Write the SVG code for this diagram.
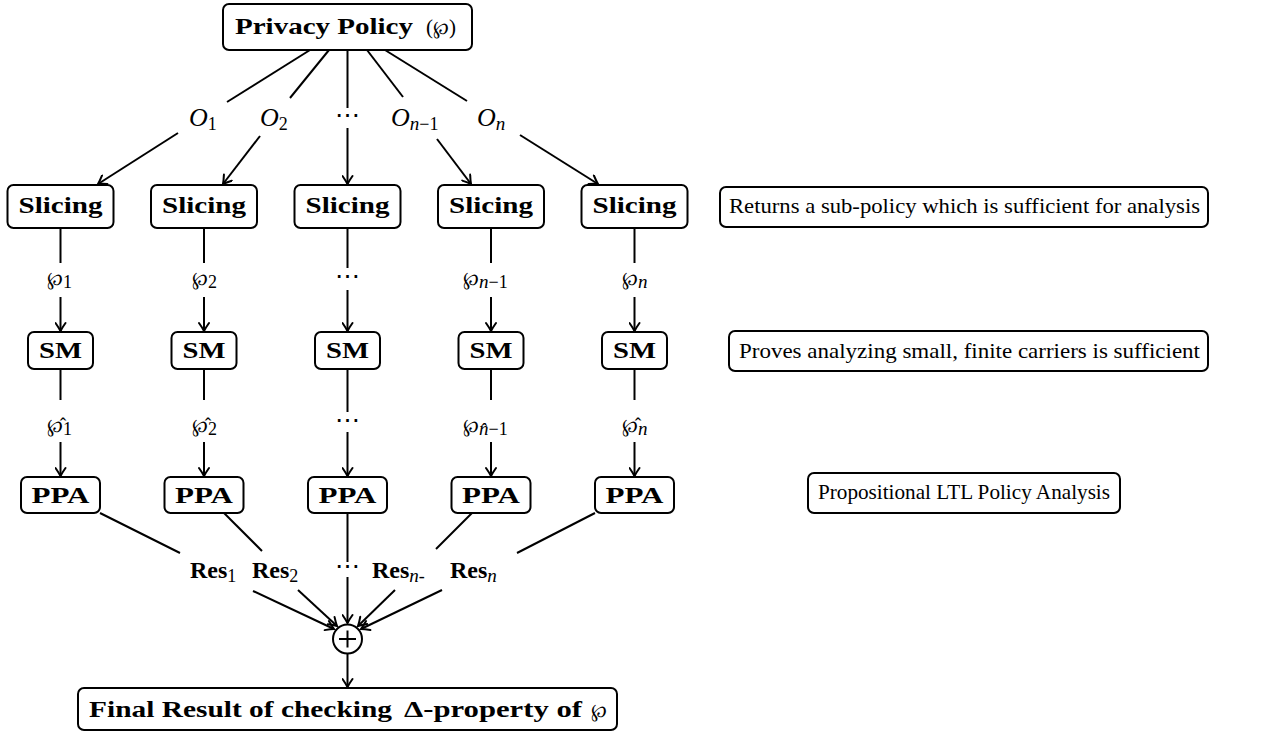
<svg xmlns="http://www.w3.org/2000/svg" width="1282" height="734" viewBox="0 0 1282 734">
  <style>
    .box { fill: #fff; stroke: #000; stroke-width: 2; }
    .edge { fill: none; stroke: #000; stroke-width: 2; }
    .b { font-family: "Liberation Serif", "DejaVu Serif", serif; font-weight: bold; font-size: 24px; fill: #000; }
    .r { font-family: "Liberation Serif", "DejaVu Serif", serif; font-size: 21px; fill: #000; }
    .mi { font-family: "Liberation Serif", "DejaVu Serif", serif; font-style: italic; font-size: 26px; fill: #000; }
    .p { font-family: "DejaVu Serif", "Liberation Serif", serif; font-size: 19px; fill: #000; }
    .sub { font-family: "Liberation Serif", "DejaVu Serif", serif; font-size: 18px; font-style: normal; font-weight: normal; }
    .subi { font-family: "Liberation Serif", "DejaVu Serif", serif; font-size: 19px; font-style: italic; font-weight: normal; }
    .dots { font-family: "DejaVu Sans", sans-serif; font-size: 24px; fill: #000; }
  </style>
  <defs>
    <marker id="arrow" viewBox="-10 -6 12 12" refX="0" refY="0" markerWidth="12" markerHeight="12" markerUnits="userSpaceOnUse" orient="auto">
      <path d="M-8,-5 Q-3,-1.5 0,0 Q-3,1.5 -8,5" fill="none" stroke="#000" stroke-width="2" stroke-linecap="round"/>
    </marker>
  </defs>
  <rect width="1282" height="734" fill="#fff"/>

  <!-- connectors -->
  <g id="connectors" class="edge">
    <!-- policy to slicing -->
    <line x1="310" y1="50" x2="227" y2="102"/>
    <line x1="178" y1="133" x2="98" y2="184" marker-end="url(#arrow)"/>
    <line x1="329" y1="50" x2="290" y2="98"/>
    <line x1="260" y1="136" x2="223" y2="184" marker-end="url(#arrow)"/>
    <line x1="347.5" y1="50" x2="347.5" y2="108"/>
    <line x1="347.5" y1="128" x2="347.5" y2="184" marker-end="url(#arrow)"/>
    <line x1="367" y1="50" x2="403" y2="97"/>
    <line x1="437" y1="139" x2="471" y2="184" marker-end="url(#arrow)"/>
    <line x1="385" y1="50" x2="467" y2="101"/>
    <line x1="520" y1="135" x2="598" y2="184" marker-end="url(#arrow)"/>

    <!-- slicing to SM -->
    <line x1="60.5" y1="228" x2="60.5" y2="263"/>
    <line x1="60.5" y1="297" x2="60.5" y2="331" marker-end="url(#arrow)"/>
    <line x1="204" y1="228" x2="204" y2="263"/>
    <line x1="204" y1="297" x2="204" y2="331" marker-end="url(#arrow)"/>
    <line x1="347.5" y1="228" x2="347.5" y2="268"/>
    <line x1="347.5" y1="290" x2="347.5" y2="331" marker-end="url(#arrow)"/>
    <line x1="491" y1="228" x2="491" y2="263"/>
    <line x1="491" y1="297" x2="491" y2="331" marker-end="url(#arrow)"/>
    <line x1="634.5" y1="228" x2="634.5" y2="263"/>
    <line x1="634.5" y1="297" x2="634.5" y2="331" marker-end="url(#arrow)"/>

    <!-- SM to PPA -->
    <line x1="60.5" y1="369" x2="60.5" y2="400"/>
    <line x1="60.5" y1="442" x2="60.5" y2="476" marker-end="url(#arrow)"/>
    <line x1="204" y1="369" x2="204" y2="400"/>
    <line x1="204" y1="442" x2="204" y2="476" marker-end="url(#arrow)"/>
    <line x1="347.5" y1="369" x2="347.5" y2="412"/>
    <line x1="347.5" y1="432" x2="347.5" y2="476" marker-end="url(#arrow)"/>
    <line x1="491" y1="369" x2="491" y2="400"/>
    <line x1="491" y1="442" x2="491" y2="476" marker-end="url(#arrow)"/>
    <line x1="634.5" y1="369" x2="634.5" y2="400"/>
    <line x1="634.5" y1="442" x2="634.5" y2="476" marker-end="url(#arrow)"/>

    <!-- PPA to combiner -->
    <line x1="100" y1="513" x2="180" y2="553"/>
    <line x1="253" y1="591" x2="334" y2="629" marker-end="url(#arrow)"/>
    <line x1="224" y1="513" x2="262" y2="551"/>
    <line x1="298" y1="590" x2="337" y2="626" marker-end="url(#arrow)"/>
    <line x1="347.5" y1="513" x2="347.5" y2="562"/>
    <line x1="347.5" y1="577" x2="347.5" y2="623" marker-end="url(#arrow)"/>
    <line x1="472" y1="513" x2="436" y2="549"/>
    <line x1="395" y1="590" x2="358" y2="626" marker-end="url(#arrow)"/>
    <line x1="595" y1="513" x2="517" y2="553"/>
    <line x1="442" y1="590" x2="361" y2="629" marker-end="url(#arrow)"/>

    <!-- combiner to result -->
    <line x1="347.5" y1="654" x2="347.5" y2="687" marker-end="url(#arrow)"/>
  </g>

  <!-- edge labels -->
  <g id="edge-labels">
    <text class="mi" x="189" y="126">O<tspan class="sub" dy="4">1</tspan></text>
    <text class="mi" x="260" y="126">O<tspan class="sub" dy="4">2</tspan></text>
    <text class="dots" x="335" y="123" textLength="25" lengthAdjust="spacingAndGlyphs">⋯</text>
    <text class="mi" x="391" y="126">O<tspan class="subi" dy="4">n</tspan><tspan class="sub">−1</tspan></text>
    <text class="mi" x="477" y="126">O<tspan class="subi" dy="4">n</tspan></text>

    <text class="p" x="47" y="285">℘<tspan class="sub" dy="3">1</tspan></text>
    <text class="p" x="192" y="285">℘<tspan class="sub" dy="3">2</tspan></text>
    <text class="dots" x="335" y="284" textLength="25" lengthAdjust="spacingAndGlyphs">⋯</text>
    <text class="p" x="463" y="285">℘<tspan class="subi" dy="3">n</tspan><tspan class="sub">−1</tspan></text>
    <text class="p" x="622" y="285">℘<tspan class="subi" dy="3">n</tspan></text>

    <!-- hatted sub-policies -->
    <text class="p" x="47" y="432">℘̂<tspan class="sub" dy="3">1</tspan></text>
    <text class="p" x="192" y="432">℘̂<tspan class="sub" dy="3">2</tspan></text>
    <text class="dots" x="335" y="428" textLength="25" lengthAdjust="spacingAndGlyphs">⋯</text>
    <text class="p" x="463" y="432">℘<tspan class="subi" dy="3">n̂</tspan><tspan class="sub">−1</tspan></text>
    <text class="p" x="622" y="432">℘̂<tspan class="subi" dy="3">n</tspan></text>

    <text class="b" x="190" y="578" font-size="23">Res<tspan class="sub" dy="4">1</tspan></text>
    <text class="b" x="252" y="578" font-size="23">Res<tspan class="sub" dy="4">2</tspan></text>
    <text class="dots" x="335" y="574" textLength="25" lengthAdjust="spacingAndGlyphs">⋯</text>
    <text class="b" x="372" y="578" font-size="23">Res<tspan class="subi" dy="4">n</tspan><tspan class="sub">-</tspan></text>
    <text class="b" x="450" y="578" font-size="23">Res<tspan class="subi" dy="4">n</tspan></text>
  </g>

  <!-- policy -->
  <g id="policy">
    <rect class="box" x="223" y="4" width="249" height="46" rx="6"/>
    <text class="b" x="235" y="34" textLength="178" lengthAdjust="spacingAndGlyphs">Privacy Policy</text>
    <text class="r" x="426" y="34" font-size="24">(<tspan class="p" font-size="20">℘</tspan>)</text>
  </g>

  <!-- slicing row -->
  <g id="slicing-1"><rect class="box" x="7.5" y="185" width="106" height="43" rx="6"/><text class="b" x="60.5" y="213" text-anchor="middle" textLength="84" lengthAdjust="spacingAndGlyphs">Slicing</text></g>
  <g id="slicing-2"><rect class="box" x="151" y="185" width="106" height="43" rx="6"/><text class="b" x="204" y="213" text-anchor="middle" textLength="84" lengthAdjust="spacingAndGlyphs">Slicing</text></g>
  <g id="slicing-3"><rect class="box" x="294.5" y="185" width="106" height="43" rx="6"/><text class="b" x="347.5" y="213" text-anchor="middle" textLength="84" lengthAdjust="spacingAndGlyphs">Slicing</text></g>
  <g id="slicing-4"><rect class="box" x="438" y="185" width="106" height="43" rx="6"/><text class="b" x="491" y="213" text-anchor="middle" textLength="84" lengthAdjust="spacingAndGlyphs">Slicing</text></g>
  <g id="slicing-5"><rect class="box" x="581.5" y="185" width="106" height="43" rx="6"/><text class="b" x="634.5" y="213" text-anchor="middle" textLength="84" lengthAdjust="spacingAndGlyphs">Slicing</text></g>

  <!-- SM row -->
  <g id="sm-1"><rect class="box" x="28" y="332" width="65" height="37" rx="6"/><text class="b" x="60.5" y="358" text-anchor="middle" textLength="43" lengthAdjust="spacingAndGlyphs">SM</text></g>
  <g id="sm-2"><rect class="box" x="171.5" y="332" width="65" height="37" rx="6"/><text class="b" x="204" y="358" text-anchor="middle" textLength="43" lengthAdjust="spacingAndGlyphs">SM</text></g>
  <g id="sm-3"><rect class="box" x="315" y="332" width="65" height="37" rx="6"/><text class="b" x="347.5" y="358" text-anchor="middle" textLength="43" lengthAdjust="spacingAndGlyphs">SM</text></g>
  <g id="sm-4"><rect class="box" x="458.5" y="332" width="65" height="37" rx="6"/><text class="b" x="491" y="358" text-anchor="middle" textLength="43" lengthAdjust="spacingAndGlyphs">SM</text></g>
  <g id="sm-5"><rect class="box" x="602" y="332" width="65" height="37" rx="6"/><text class="b" x="634.5" y="358" text-anchor="middle" textLength="43" lengthAdjust="spacingAndGlyphs">SM</text></g>

  <!-- PPA row -->
  <g id="ppa-1"><rect class="box" x="21" y="477" width="79" height="36" rx="6"/><text class="b" x="60.5" y="503" text-anchor="middle" textLength="58" lengthAdjust="spacingAndGlyphs">PPA</text></g>
  <g id="ppa-2"><rect class="box" x="164.5" y="477" width="79" height="36" rx="6"/><text class="b" x="204" y="503" text-anchor="middle" textLength="58" lengthAdjust="spacingAndGlyphs">PPA</text></g>
  <g id="ppa-3"><rect class="box" x="308" y="477" width="79" height="36" rx="6"/><text class="b" x="347.5" y="503" text-anchor="middle" textLength="58" lengthAdjust="spacingAndGlyphs">PPA</text></g>
  <g id="ppa-4"><rect class="box" x="451.5" y="477" width="79" height="36" rx="6"/><text class="b" x="491" y="503" text-anchor="middle" textLength="58" lengthAdjust="spacingAndGlyphs">PPA</text></g>
  <g id="ppa-5"><rect class="box" x="595" y="477" width="79" height="36" rx="6"/><text class="b" x="634.5" y="503" text-anchor="middle" textLength="58" lengthAdjust="spacingAndGlyphs">PPA</text></g>

  <!-- combiner -->
  <g id="combine">
    <circle class="box" cx="347.5" cy="639" r="14.5"/>
    <path class="edge" d="M339,639 H356 M347.5,630.5 V647.5" stroke-width="1.6"/>
  </g>

  <!-- final result -->
  <g id="final-result">
    <rect class="box" x="78" y="688" width="539" height="42" rx="6"/>
    <text class="b" x="89" y="717" textLength="303" lengthAdjust="spacingAndGlyphs">Final Result of checking</text>
    <text class="b" x="404" y="717" textLength="178" lengthAdjust="spacingAndGlyphs">Δ-property of</text>
    <text class="p" x="591" y="717" font-size="20">℘</text>
  </g>

  <!-- side notes -->
  <g id="note-slicing">
    <rect class="box" x="720" y="187" width="488" height="40" rx="6"/>
    <text class="r" x="729" y="213" textLength="471" lengthAdjust="spacingAndGlyphs">Returns a sub-policy which is sufficient for analysis</text>
  </g>
  <g id="note-sm">
    <rect class="box" x="729" y="331" width="479" height="40" rx="6"/>
    <text class="r" x="739" y="358" textLength="461" lengthAdjust="spacingAndGlyphs">Proves analyzing small, finite carriers is sufficient</text>
  </g>
  <g id="note-ppa">
    <rect class="box" x="808" y="473" width="312" height="40" rx="6"/>
    <text class="r" x="818" y="499" textLength="292" lengthAdjust="spacingAndGlyphs">Propositional LTL Policy Analysis</text>
  </g>
</svg>
